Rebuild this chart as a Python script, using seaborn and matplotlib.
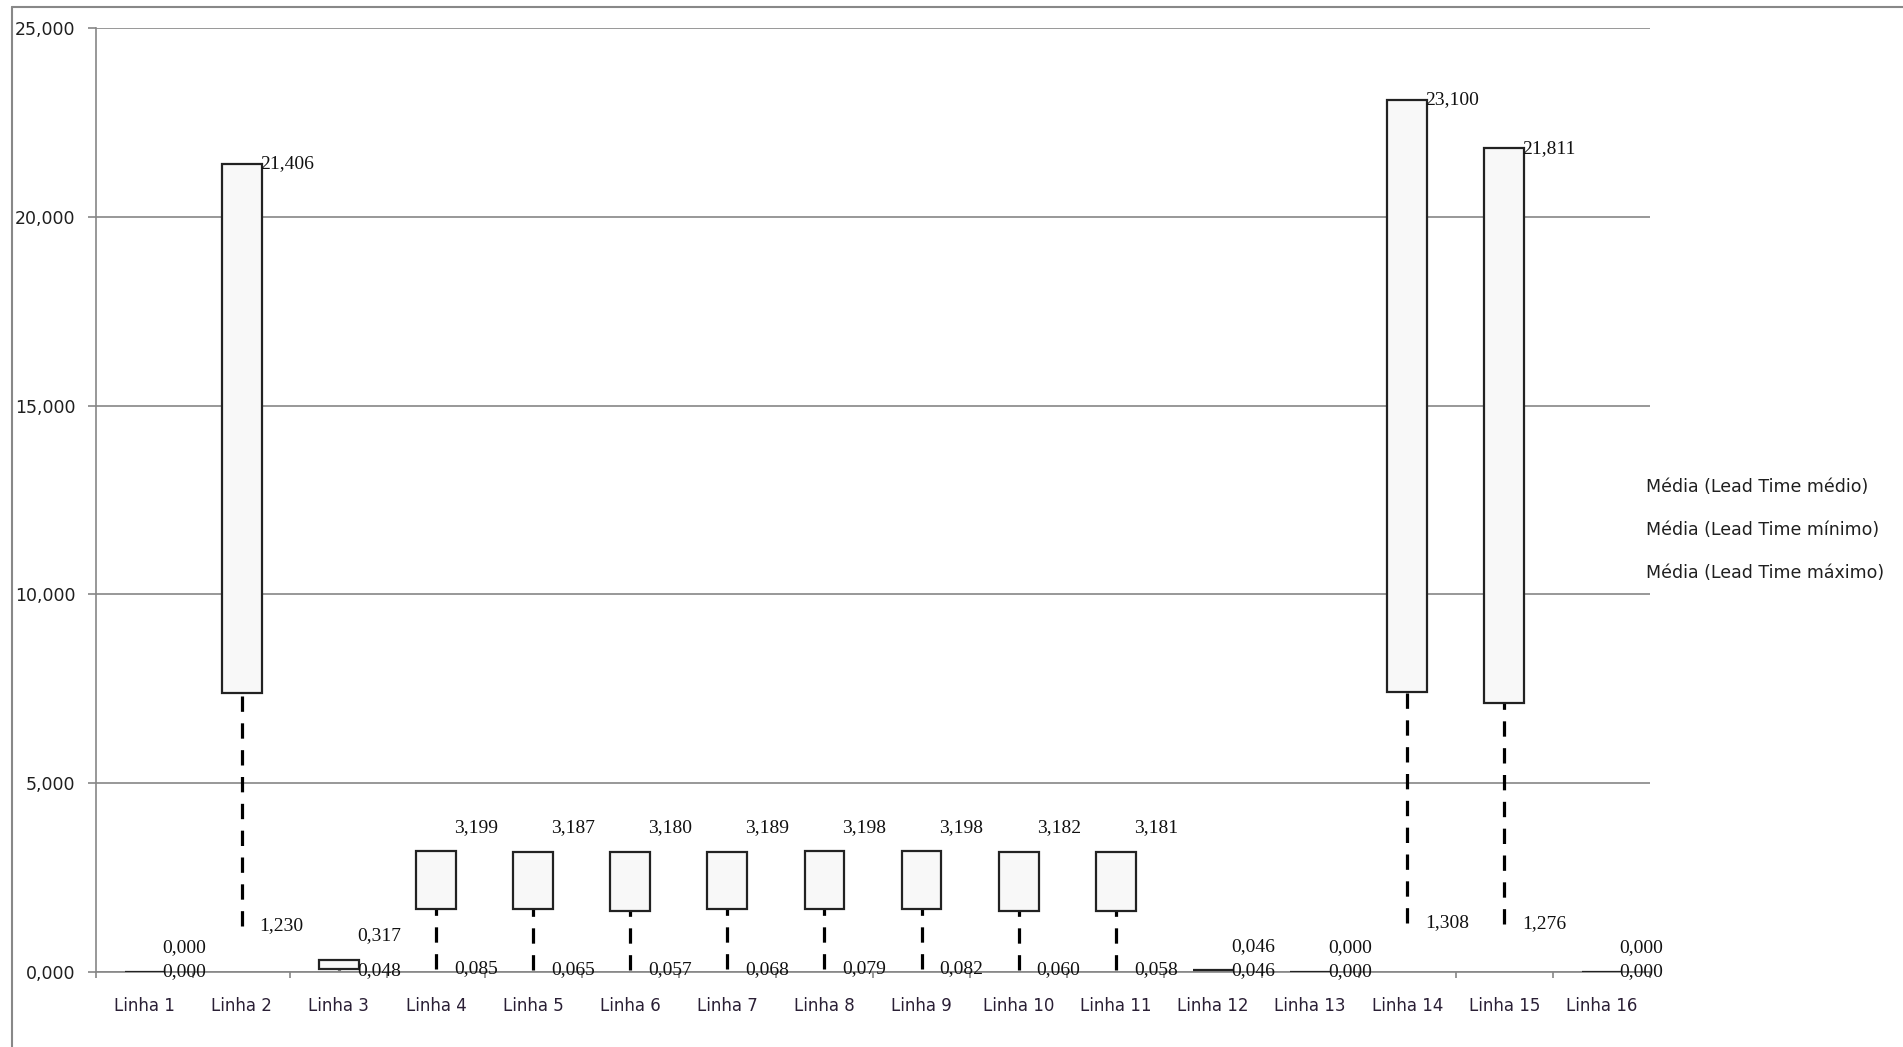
import numpy as np
import pandas as pd
import matplotlib
matplotlib.use("Agg")
import matplotlib.pyplot as plt
from matplotlib.lines import Line2D
from matplotlib.ticker import FixedLocator, FuncFormatter
import seaborn as sns

# ---- data ----
categorias = [f"Linha {i}" for i in range(1, 17)]
lead_medio = [0.000, 7.39, 0.08, 1.66, 1.66, 1.61, 1.66, 1.67, 1.67, 1.61, 1.61, 0.046, 0.000, 7.42, 7.12, 0.000]
lead_minimo = [0.000, 1.230, 0.048, 0.085, 0.065, 0.057, 0.068, 0.079, 0.082, 0.060, 0.058, 0.046, 0.000, 1.308, 1.276, 0.000]
lead_maximo = [0.000, 21.406, 0.317, 3.199, 3.187, 3.180, 3.189, 3.198, 3.198, 3.182, 3.181, 0.046, 0.000, 23.100, 21.811, 0.000]
legenda = ["Média (Lead Time médio)", "Média (Lead Time mínimo)", "Média (Lead Time máximo)"]
y_ticks = [0, 5, 10, 15, 20, 25]

df = pd.DataFrame({
    "categoria": categorias,
    "medio": lead_medio,
    "minimo": lead_minimo,
    "maximo": lead_maximo,
})
df["altura"] = df["maximo"] - df["medio"]

def fmt(v):
    return f"{v:,.3f}".replace(",", "X").replace(".", ",").replace("X", ".")

sns.set_style("white")
plt.rcParams["font.family"] = ["DejaVu Sans"]

W, H, DPI = 1903, 1047, 100
fig = plt.figure(figsize=(W / DPI, H / DPI), dpi=DPI)
ax = fig.add_axes([96 / W, 1 - 972 / H, (1650 - 96) / W, (972 - 28) / H])

grid_col = "#868686"
bar_w = 0.41

# boxes: from média to máximo
sns.barplot(data=df, x="categoria", y="altura", bottom=df["medio"].values,
            width=bar_w, color="#F8F8F8", edgecolor="#222222", linewidth=1.6,
            saturation=1, ax=ax, zorder=3, errorbar=None)

# dashed lines: mínimo to média
xs = np.arange(len(categorias))
ax.vlines(xs, df["minimo"], df["medio"], colors="black", linewidth=2.3,
          linestyles=(0, (4.8, 3.6)), zorder=2)

# labels
for i, row in df.iterrows():
    xr = i + bar_w / 2 - 0.02
    up = 24 if (row["maximo"] - row["minimo"]) < 5 else 0
    ax.annotate(fmt(row["maximo"]), (xr, row["maximo"]), xytext=(0, up),
                textcoords="offset pixels", ha="left", va="center",
                fontsize=14, family="Liberation Serif", color="#111111", zorder=5)
    ax.annotate(fmt(row["minimo"]), (xr, row["minimo"]), xytext=(0, 0),
                textcoords="offset pixels", ha="left", va="center",
                fontsize=14, family="Liberation Serif", color="#111111", zorder=5)

ax.set_xlim(-0.5, len(categorias) - 0.5)
ax.set_ylim(0, 25)
ax.set_yticks(y_ticks)
ax.yaxis.set_major_formatter(FuncFormatter(lambda v, p: fmt(v)))
ax.yaxis.grid(True, color=grid_col, linewidth=1.2, zorder=0)
ax.set_axisbelow(True)
ax.set_xlabel("")
ax.set_ylabel("")

for s in ["top", "right"]:
    ax.spines[s].set_visible(False)
for s in ["left", "bottom"]:
    ax.spines[s].set_color(grid_col)
    ax.spines[s].set_linewidth(1.2)

ax.tick_params(axis="y", which="major", direction="out", length=6, width=1.2,
               color=grid_col, labelsize=12.5, labelcolor="#1f1f1f", pad=9, left=True)
ax.tick_params(axis="x", which="major", length=0, labelsize=12,
               labelcolor="#2a1f35", pad=18)
ax.xaxis.set_minor_locator(FixedLocator(np.arange(-0.5, len(categorias), 1.0)))
ax.tick_params(axis="x", which="minor", direction="out", length=4.5, width=1.2,
               color=grid_col, bottom=True)

# legend as plain text entries
for k, t in enumerate(legenda):
    fig.text(1646 / W, 1 - (487 + 43 * k) / H, t, ha="left", va="center",
             fontsize=12.5, color="#1f1f1f")

# outer chart frame (top and left)
fig.add_artist(Line2D([12 / W, 12 / W], [0, 1 - 6.5 / H], transform=fig.transFigure,
                      color="#888888", linewidth=1.5))
fig.add_artist(Line2D([12 / W, 1], [1 - 6.5 / H, 1 - 6.5 / H], transform=fig.transFigure,
                      color="#888888", linewidth=1.5))

fig.savefig("out.png", dpi=DPI)
